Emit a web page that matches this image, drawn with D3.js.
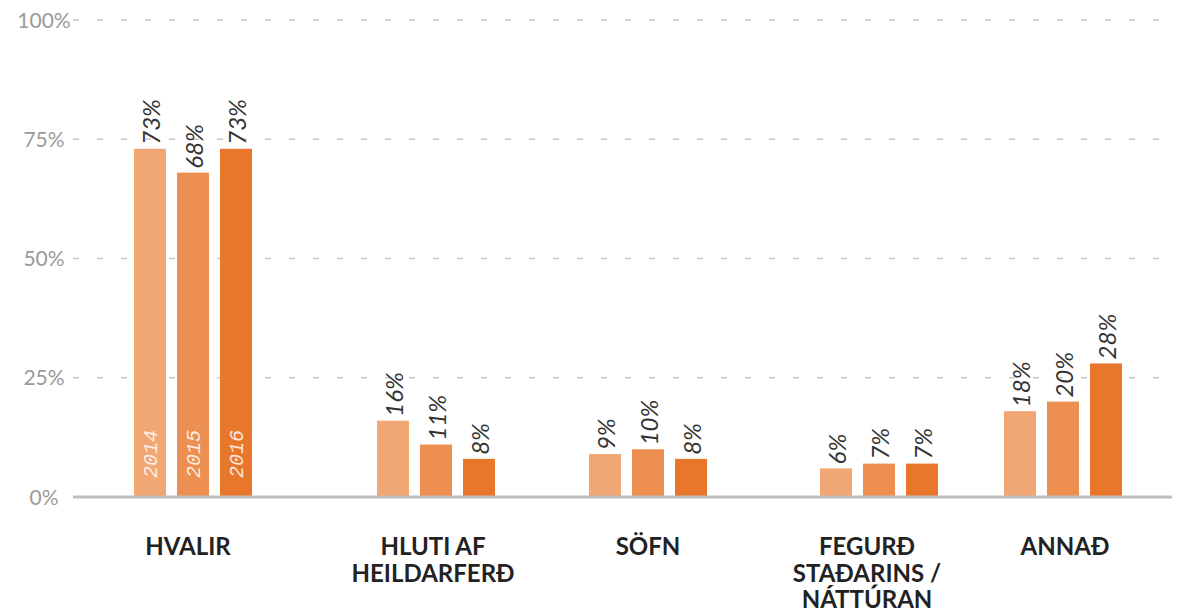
<!DOCTYPE html>
<html>
<head>
<meta charset="utf-8">
<script src="https://cdn.jsdelivr.net/npm/d3@7"></script>
<style>
  body { margin: 0; background: #fff; }
  svg { display: block; }
</style>
</head>
<body>
<div id="PlotArea"></div>
<script>
// data
var categories = ["HVALIR", "HLUTI AF HEILDARFERÐ", "SÖFN", "FEGURÐ STAÐARINS / NÁTTÚRAN", "ANNAÐ"];
var categoryLines = [["HVALIR"], ["HLUTI AF", "HEILDARFERÐ"], ["SÖFN"], ["FEGURÐ", "STAÐARINS /", "NÁTTÚRAN"], ["ANNAÐ"]];
var years = ["2014", "2015", "2016"];
var values2014 = [73, 16, 9, 6, 18];
var values2015 = [68, 11, 10, 7, 20];
var values2016 = [73, 8, 8, 7, 28];
var yTicks = [0, 25, 50, 75, 100];

var width = 1191, height = 612;
var series = [values2014, values2015, values2016];
var colors = ["#F1A773", "#ED8F50", "#E8772B"];

var svg = d3.select("#PlotArea").append("svg")
  .attr("width", width)
  .attr("height", height);

// scales (group centres are hand placed in the original, so an ordinal range)
var yscale = d3.scaleLinear().domain([0, 100]).range([497, 20]);
var xgroup = d3.scaleOrdinal().domain(categories).range([193, 436, 648, 879, 1063]);
var xlabel = d3.scaleOrdinal().domain(categories).range([188, 433, 648, 867, 1065]);
var xinner = d3.scaleBand().domain(years).range([-59, 59]).paddingInner(0.256).paddingOuter(0);
var colorscale = d3.scaleOrdinal().domain(years).range(colors);

// grid lines
var y_axis = d3.axisLeft(yscale).tickValues(yTicks).tickSize(0).tickFormat(function(d){ return d + "%"; });
var grid = svg.append("g").attr("class", "grid");
grid.selectAll("line")
  .data(yTicks.filter(function(d){ return d > 0; }))
  .enter().append("line")
  .attr("x1", 73).attr("x2", 1172)
  .attr("y1", function(d){ return yscale(d); })
  .attr("y2", function(d){ return yscale(d); })
  .attr("stroke", "#c8c8c8")
  .attr("stroke-width", 1.6)
  .attr("stroke-dasharray", "6,18");

// y labels
var yg = svg.append("g").attr("transform", "translate(44,0)").call(y_axis);
yg.select(".domain").remove();
yg.selectAll("text")
  .attr("x", 0)
  .attr("dy", "0.34em")
  .style("text-anchor", "middle")
  .style("font-family", "Lato, 'Open Sans', sans-serif")
  .style("font-size", "21px")
  .style("fill", "#9a9a9a");

// bars
var rows = [];
categories.forEach(function(c, i){
  years.forEach(function(y, j){
    rows.push({cat: c, year: y, value: series[j][i], first: i === 0});
  });
});

var bars = svg.append("g").attr("class", "bars");
bars.selectAll("rect")
  .data(rows)
  .enter().append("rect")
  .attr("x", function(d){ return xgroup(d.cat) + xinner(d.year); })
  .attr("width", xinner.bandwidth())
  .attr("y", function(d){ return yscale(d.value); })
  .attr("height", function(d){ return yscale(0) - yscale(d.value); })
  .attr("fill", function(d){ return colorscale(d.year); });

// value labels
bars.selectAll("text.val")
  .data(rows)
  .enter().append("text")
  .attr("class", "val")
  .attr("transform", function(d){
    var cx = xgroup(d.cat) + xinner(d.year) + xinner.bandwidth() / 2 + 1;
    return "translate(" + cx + "," + (yscale(d.value) - 4) + ") rotate(-90)";
  })
  .attr("dy", "0.36em")
  .style("text-anchor", "start")
  .style("font-family", "Lato, 'Open Sans', sans-serif")
  .style("font-style", "italic")
  .style("font-size", "24px")
  .style("fill", "#333")
  .text(function(d){ return d.value + "%"; });

// year labels inside first group
bars.selectAll("text.year")
  .data(rows.filter(function(d){ return d.first; }))
  .enter().append("text")
  .attr("class", "year")
  .attr("transform", function(d){
    var cx = xgroup(d.cat) + xinner(d.year) + xinner.bandwidth() / 2;
    return "translate(" + cx + "," + (yscale(0) - 19) + ") rotate(-90)";
  })
  .attr("dy", "0.36em")
  .style("text-anchor", "start")
  .style("font-family", "'Liberation Mono', 'DejaVu Sans Mono', monospace")
  .style("font-style", "italic")
  .style("font-size", "20px")
  .style("fill", "rgba(255,255,255,0.85)")
  .text(function(d){ return d.year; });

// baseline
svg.append("line")
  .attr("x1", 73).attr("x2", 1172)
  .attr("y1", yscale(0)).attr("y2", yscale(0))
  .attr("stroke", "#bdbdbf")
  .attr("stroke-width", 3);

// category labels
var labels = svg.append("g").attr("class", "cats");
labels.selectAll("text")
  .data(categories)
  .enter().append("text")
  .attr("x", function(d){ return xlabel(d); })
  .attr("y", 555)
  .style("text-anchor", "middle")
  .style("font-family", "Lato, 'Open Sans', sans-serif")
  .style("font-weight", "bold")
  .style("font-size", "24px")
  .style("fill", "#222")
  .each(function(d, i){
    var t = d3.select(this);
    categoryLines[i].forEach(function(line, k){
      t.append("tspan")
        .attr("x", xlabel(d))
        .attr("y", 555 + k * 26.5)
        .text(line);
    });
  });
</script>
</body>
</html>
